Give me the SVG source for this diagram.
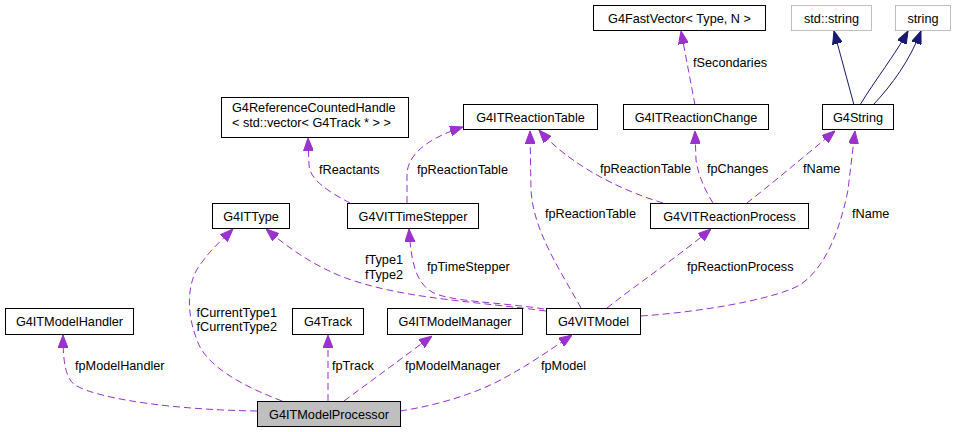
<svg xmlns="http://www.w3.org/2000/svg" width="955" height="432" viewBox="0 0 955 432">
<style>
text{font-family:"Liberation Sans",Arial,sans-serif;font-size:12.7px;fill:#000}
.n rect{fill:#fff;stroke:#000;stroke-width:1}
.n text{text-anchor:middle}
.g rect{stroke:#bfbfbf}
.cur rect{fill:#bfbfbf}
.e{fill:none;stroke:#9a32cd;stroke-width:1;stroke-dasharray:7,4;marker-end:url(#ap)}
.s{fill:none;stroke:#191970;stroke-width:1;marker-end:url(#an)}
.r{text-anchor:end}
</style>
<defs>
<marker id="ap" viewBox="0 0 13 10" refX="13" refY="5" markerWidth="13" markerHeight="10" markerUnits="userSpaceOnUse" orient="auto"><path d="M0,0 L13,5 L0,10 z" fill="#9a32cd" stroke="#9a32cd"/></marker>
<marker id="an" viewBox="0 0 13 10" refX="13" refY="5" markerWidth="13" markerHeight="10" markerUnits="userSpaceOnUse" orient="auto"><path d="M0,0 L13,5 L0,10 z" fill="#191970" stroke="#191970"/></marker>
</defs>
<g id="connectors">
<path class="e" d="M695,105 L681,31"/>
<path class="s" d="M854,105 L834,31"/>
<path class="s" d="M860,105 C875,80 895,55 908,31"/>
<path class="s" d="M873,105 C892,85 910,60 921,31"/>
<path class="e" d="M350,203 C335,195 310,182 309,165 L308,138"/>
<path class="e" d="M407,203 L407,175 C407,158 422,140 463,127"/>
<path class="e" d="M581,308 C560,270 533,230 531,190 L530,131"/>
<path class="e" d="M663,203 C620,190 570,165 539,130"/>
<path class="e" d="M713,203 C705,190 698,175 696,160 L695,131"/>
<path class="e" d="M747,203 C770,185 800,160 835,131"/>
<path class="e" d="M641,316 C700,312 770,300 798,286 C825,270 840,230 848,190 L855,131"/>
<path class="e" d="M607,308 C640,282 680,255 711,229"/>
<path class="e" d="M544,309 C500,302 450,302 432,292 C415,282 411,260 409,229"/>
<path class="e" d="M546,311 C460,300 400,298 343,277 C310,264 285,245 266,229"/>
<path class="e" d="M282,401 C240,385 205,365 197,340 C185,310 188,280 200,265 C210,250 222,240 233,229"/>
<path class="e" d="M257,411 C180,410 100,400 75,385 C65,378 63,360 63,335"/>
<path class="e" d="M328,401 L328,335"/>
<path class="e" d="M344,401 L432,336"/>
<path class="e" d="M400,411 C440,405 480,392 506,377 C530,364 550,350 572,335"/>
</g>
<g id="labels">
<text x="693" y="67">fSecondaries</text>
<text x="319" y="174">fReactants</text>
<text x="417" y="174">fpReactionTable</text>
<text x="545" y="218">fpReactionTable</text>
<text x="600" y="173">fpReactionTable</text>
<text x="707" y="173">fpChanges</text>
<text x="803" y="173">fName</text>
<text x="852" y="218">fName</text>
<text x="687" y="271">fpReactionProcess</text>
<text x="427" y="271">fpTimeStepper</text>
<text class="r" x="403" y="264">fType1</text>
<text class="r" x="403" y="279">fType2</text>
<text class="r" x="277" y="317">fCurrentType1</text>
<text class="r" x="277" y="331">fCurrentType2</text>
<text x="75" y="370">fpModelHandler</text>
<text x="332" y="370">fpTrack</text>
<text x="405" y="370">fpModelManager</text>
<text x="541" y="370">fpModel</text>
</g>
<g id="G4FastVector" class="n"><rect x="593.5" y="5.5" width="172" height="25"/><text x="679.5" y="22.5">G4FastVector&lt; Type, N &gt;</text></g>
<g id="std_string" class="n g"><rect x="791.5" y="5.5" width="80" height="25"/><text x="831.5" y="22.5">std::string</text></g>
<g id="string" class="n g"><rect x="895.5" y="5.5" width="55" height="25"/><text x="923" y="22.5">string</text></g>
<g id="G4ReferenceCountedHandle" class="n"><rect x="221.5" y="97.5" width="187" height="40"/><text x="232" y="112" style="text-anchor:start">G4ReferenceCountedHandle</text><text x="232" y="127" style="text-anchor:start">&lt; std::vector&lt; G4Track * &gt; &gt;</text></g>
<g id="G4ITReactionTable" class="n"><rect x="463.5" y="104.5" width="134" height="25"/><text x="530.5" y="121.5">G4ITReactionTable</text></g>
<g id="G4ITReactionChange" class="n"><rect x="623.5" y="104.5" width="145" height="25"/><text x="696" y="121.5">G4ITReactionChange</text></g>
<g id="G4String" class="n"><rect x="822.5" y="104.5" width="71" height="25"/><text x="858" y="121.5">G4String</text></g>
<g id="G4ITType" class="n"><rect x="212.5" y="203.5" width="77" height="25"/><text x="251" y="220.5">G4ITType</text></g>
<g id="G4VITTimeStepper" class="n"><rect x="347.5" y="203.5" width="131" height="25"/><text x="413" y="220.5">G4VITTimeStepper</text></g>
<g id="G4VITReactionProcess" class="n"><rect x="650.5" y="203.5" width="158" height="25"/><text x="729.5" y="220.5">G4VITReactionProcess</text></g>
<g id="G4ITModelHandler" class="n"><rect x="5.5" y="308.5" width="128" height="26"/><text x="69.5" y="326">G4ITModelHandler</text></g>
<g id="G4Track" class="n"><rect x="292.5" y="308.5" width="71" height="26"/><text x="328" y="326">G4Track</text></g>
<g id="G4ITModelManager" class="n"><rect x="387.5" y="308.5" width="135" height="26"/><text x="455" y="326">G4ITModelManager</text></g>
<g id="G4VITModel" class="n"><rect x="546.5" y="308.5" width="94" height="26"/><text x="593.5" y="326">G4VITModel</text></g>
<g id="G4ITModelProcessor" class="n cur"><rect x="257.5" y="401.5" width="143" height="25"/><text x="329" y="418.5">G4ITModelProcessor</text></g>
</svg>
